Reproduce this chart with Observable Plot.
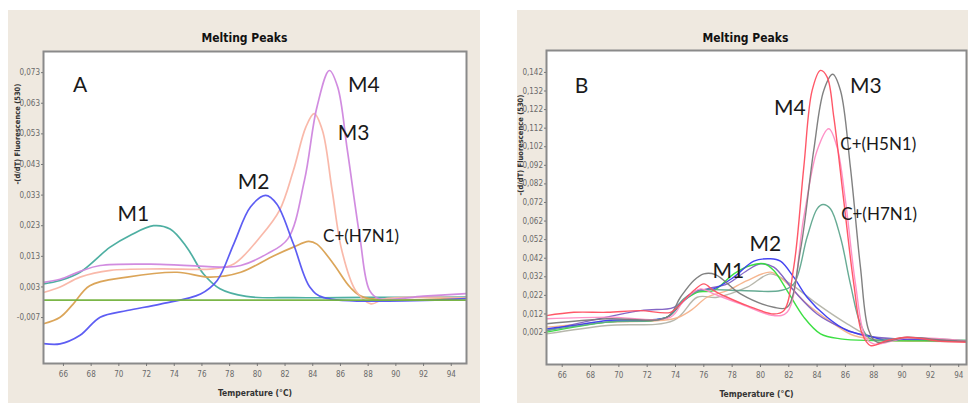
<!DOCTYPE html>
<html><head><meta charset="utf-8">
<script src="https://cdn.jsdelivr.net/npm/d3@7"></script>
<script src="https://cdn.jsdelivr.net/npm/@observablehq/plot@0.6"></script>
<style>
html,body{margin:0;padding:0;background:#fff;width:968px;height:403px;overflow:hidden;}
.panel{position:absolute;top:10px;background:#efe9e0;overflow:hidden;}
#pa{left:8px;width:472px;height:393px;}
#pb{left:517px;width:451px;height:393px;}
svg{display:block;}
</style></head><body>
<div id="pa" class="panel"></div><div id="pb" class="panel"></div>
<script>
// ---------- shared text ----------
const chartTitle = "Melting Peaks";
const xTitle = "Temperature (°C)";
const yTitle = "-(d/dT) Fluorescence (530)";
const xTicks = [66, 68, 70, 72, 74, 76, 78, 80, 82, 84, 86, 88, 90, 92, 94];

// ---------- Panel A ----------
const yTicksA = [-0.007, 0.003, 0.013, 0.023, 0.033, 0.043, 0.053, 0.063, 0.073];

const aM1T = [64.56, 65.76, 67.2, 69.37, 70.8, 72.5, 73.7, 74.9, 76.1, 77.3, 79.2, 82.6, 88, 95.1];
const aM1V = [0.0040, 0.0051, 0.0078, 0.0160, 0.0198, 0.0230, 0.0219, 0.0160, 0.0073, 0.0024, -0.0001, -0.0005, -0.0004, -0.0003];

const aM4T = [64.56, 65.76, 67.2, 68.65, 73, 77.8, 78.8, 80.7, 82.2, 83.4, 84.3, 85.2, 85.8, 86.5, 87.4, 88.1, 88.8, 92, 95.1];
const aM4V = [0.0045, 0.0055, 0.0081, 0.0100, 0.0104, 0.0095, 0.0100, 0.0138, 0.0187, 0.0378, 0.0617, 0.0737, 0.0683, 0.0476, 0.0193, 0.0019, -0.0009, 0.0000, 0.0008];

const aM3T = [64.56, 65.76, 67.2, 69.4, 73, 76.8, 78.3, 80.2, 81.6, 82.6, 83.5, 84.1, 84.7, 85.4, 86.1, 87.1, 88.2, 89.2, 95.1];
const aM3V = [0.0012, 0.0030, 0.0062, 0.0084, 0.0089, 0.0089, 0.0105, 0.0193, 0.0280, 0.0410, 0.0552, 0.0596, 0.0541, 0.0345, 0.0149, 0.0018, -0.0025, -0.0009, -0.0006];

const aH7T = [64.56, 65.76, 66.7, 67.9, 70.6, 74.2, 76.6, 78.8, 81.2, 82.6, 83.7, 84.3, 85.5, 86.7, 87.7, 95.1];
const aH7V = [-0.0090, -0.0069, -0.0026, 0.0034, 0.0062, 0.0078, 0.0062, 0.0078, 0.0132, 0.0160, 0.0179, 0.0170, 0.0105, 0.0029, -0.0004, -0.0005];

const aM2T = [64.56, 65.76, 67.2, 68.65, 70.6, 73, 75.9, 77.1, 78.3, 79.5, 80.6, 81.4, 82.6, 83.8, 84.8, 95.1];
const aM2V = [-0.0155, -0.0156, -0.0128, -0.0069, -0.0047, -0.0026, 0.0007, 0.0051, 0.0171, 0.0291, 0.0329, 0.0301, 0.0171, 0.0029, -0.0005, -0.0008];

const aNegT = [64.56, 95.1];
const aNegV = [-0.0013, -0.0013];

const bigLabelsA = ["A", "M4", "M3", "M2", "M1"];
const bigLabelsAT = [67.2, 87.68, 86.94, 79.72, 71.05];
const bigLabelsAV = [0.0688, 0.0689, 0.0532, 0.0371, 0.0267];
const smallLabelsA = ["C+(H7N1)"];
const smallLabelsAT = [87.49];
const smallLabelsAV = [0.0194];

// ---------- Panel B ----------
const yTicksB = [0.002, 0.012, 0.022, 0.032, 0.042, 0.052, 0.062, 0.072, 0.082, 0.092, 0.102, 0.112, 0.122, 0.132, 0.142];

const bLgT = [64.89, 69.18, 73.88, 75.53, 76.94, 79.06, 80.71, 82.12, 84.0, 86.12, 88.0, 94.68];
const bLgV = [0.0013, 0.0058, 0.0085, 0.0210, 0.0210, 0.0264, 0.0336, 0.0282, 0.0174, 0.0067, -0.0005, -0.0027];

const bPeT = [64.89, 69.18, 73.88, 75.06, 76.23, 77.65, 79.06, 80.71, 81.65, 83.29, 85.18, 86.59, 88.94, 94.68];
const bPeV = [0.0049, 0.0076, 0.0094, 0.0138, 0.0210, 0.0246, 0.0300, 0.0345, 0.0300, 0.0174, 0.0067, 0.0004, -0.0023, -0.0023];

const bPuT = [64.89, 71.53, 73.88, 75.06, 76.23, 77.65, 79.06, 80.0, 80.94, 82.35, 84.0, 85.65, 87.29, 94.68];
const bPuV = [0.0031, 0.0138, 0.0156, 0.0228, 0.0255, 0.0282, 0.0354, 0.0390, 0.0372, 0.0246, 0.0120, 0.0049, 0.0004, -0.0027];

const bGrT = [64.89, 69.18, 73.41, 74.59, 75.53, 76.7, 78.12, 79.29, 80.24, 80.94, 81.88, 83.06, 84.24, 85.65, 88.0, 94.68];
const bGrV = [0.0022, 0.0076, 0.0103, 0.0192, 0.0237, 0.0246, 0.0336, 0.0381, 0.0390, 0.0354, 0.0246, 0.0103, 0.0013, -0.0014, -0.0023, -0.0023];

const bBlT = [64.89, 66.82, 69.18, 73.41, 74.35, 75.53, 76.7, 78.12, 79.53, 80.71, 81.41, 82.35, 83.29, 84.71, 86.12, 87.53, 88.94, 90.35, 94.68];
const bBlV = [0.0040, 0.0058, 0.0085, 0.0103, 0.0174, 0.0246, 0.0255, 0.0318, 0.0404, 0.0417, 0.0404, 0.0318, 0.0210, 0.0102, 0.0031, 0.0004, -0.0023, -0.0014, -0.0027];

const bH7T = [64.89, 69.18, 73.41, 74.59, 75.76, 78.59, 81.41, 82.35, 83.29, 84.0, 84.42, 84.94, 85.65, 86.35, 87.06, 87.77, 90.35, 94.68];
const bH7V = [0.0031, 0.0076, 0.0103, 0.0201, 0.0246, 0.0246, 0.0246, 0.0282, 0.0533, 0.0686, 0.0709, 0.0686, 0.0533, 0.0282, 0.0067, -0.0014, -0.0009, -0.0023];

const bH5T = [64.89, 69.18, 73.65, 74.59, 75.76, 76.7, 78.59, 80.94, 81.88, 83.06, 84.0, 84.82, 85.41, 86.0, 86.71, 87.41, 88.0, 90.35, 94.68];
const bH5V = [0.0094, 0.0103, 0.0103, 0.0192, 0.0255, 0.0228, 0.0174, 0.0111, 0.0129, 0.0641, 0.1000, 0.1117, 0.1018, 0.0731, 0.0282, -0.0005, -0.0041, -0.0009, -0.0027];

const bM3T = [64.89, 69.18, 73.41, 74.35, 75.29, 76.0, 76.82, 78.59, 80.94, 81.88, 82.82, 83.76, 84.47, 85.1, 85.65, 86.35, 87.06, 87.65, 88.24, 90.35, 92.7, 94.68];
const bM3V = [0.0067, 0.0094, 0.0103, 0.0210, 0.0300, 0.0336, 0.0332, 0.0228, 0.0156, 0.0156, 0.0462, 0.1000, 0.1323, 0.1410, 0.1323, 0.0910, 0.0372, 0.0031, -0.0032, -0.0005, -0.0020, -0.0027];

const bM4T = [64.89, 66.82, 69.18, 71.53, 73.65, 74.35, 75.29, 76.0, 76.7, 77.65, 79.06, 80.94, 81.65, 82.35, 83.06, 83.65, 84.24, 84.71, 85.18, 85.88, 86.59, 87.18, 87.77, 88.94, 90.35, 92.7, 94.68];
const bM4V = [0.0111, 0.0129, 0.0129, 0.0138, 0.0129, 0.0174, 0.0246, 0.0282, 0.0246, 0.0210, 0.0165, 0.0120, 0.0138, 0.0372, 0.0910, 0.1323, 0.1431, 0.1395, 0.1179, 0.0731, 0.0282, 0.0013, -0.0050, -0.0023, -0.0005, -0.0027, -0.0032];

const bigLabelsB = ["B", "M3", "M4", "M2", "M1"];
const bigLabelsBT = [67.36, 87.44, 82.08, 80.35, 77.74];
const bigLabelsBV = [0.1345, 0.1345, 0.1229, 0.0494, 0.0348];
const smallLabelsB = ["C+(H5N1)", "C+(H7N1)"];
const smallLabelsBT = [88.32, 88.38];
const smallLabelsBV = [0.1030, 0.0655];

// ---------- helpers ----------
const rows = (t, v) => t.map((d, i) => ({t: d, v: v[i]}));
const fmt = d => (d < 0 ? "-" : "") + Math.abs(d).toFixed(3).replace(".", ",");
const narrow = "'Liberation Sans Narrow', 'DejaVu Sans Condensed', 'Arial Narrow', sans-serif";
const calib = "Lato, 'Open Sans', sans-serif";

function build(cfg) {
  const lines = cfg.series.map(([t, v, color]) =>
    Plot.line(rows(t, v), {x: "t", y: "v", stroke: color, strokeWidth: cfg.lw, curve: "catmull-rom", clip: true, strokeOpacity: 0.95}));
  const big = cfg.big.map((d, i) => ({text: d, t: cfg.bigT[i], v: cfg.bigV[i]}));
  const small = cfg.small.map((d, i) => ({text: d, t: cfg.smallT[i], v: cfg.smallV[i]}));
  return Plot.plot({
    width: cfg.width, height: 393,
    marginTop: cfg.mt, marginBottom: cfg.mb, marginLeft: cfg.ml, marginRight: cfg.mr,
    style: {background: "transparent", fontFamily: narrow, fontSize: "8px", color: "#666", overflow: "visible"},
    x: {domain: cfg.xDomain},
    y: {domain: cfg.yDomain},
    marks: [
      Plot.frame({fill: "white", stroke: "none"}),
      ...lines,
      Plot.frame({stroke: "#8a8a8a", strokeWidth: 2}),
      Plot.axisX({ticks: xTicks, tickFormat: d => String(d), tickSize: 3, tickPadding: 5, label: null, stroke: "#777", fill: "#6a6a6a"}),
      Plot.axisY({ticks: cfg.yTicks, tickFormat: fmt, tickSize: 2, tickPadding: 1.5, label: null, stroke: "#777", fill: "#6a6a6a"}),
      Plot.text([chartTitle], {text: d => d, frameAnchor: "top", dy: cfg.titleDy, dx: cfg.titleDx, fontWeight: "bold", fontSize: 12, fill: "#111", fontFamily: narrow}),
      Plot.text([xTitle], {text: d => d, frameAnchor: "bottom", dy: 32, fontWeight: "bold", fontSize: 8.5, fill: "#333", fontFamily: narrow}),
      Plot.text([yTitle], {text: d => d, frameAnchor: "left", dx: cfg.yTitleDx, dy: cfg.yTitleDy, rotate: -90, fontWeight: "bold", fontSize: 7.5, fill: "#333", fontFamily: narrow}),
      Plot.text(big, {x: "t", y: "v", text: "text", fontSize: 21, fill: "#1a1a1a", fontFamily: calib}),
      Plot.text(small, {x: "t", y: "v", text: "text", fontSize: 17, fill: "#1a1a1a", fontFamily: calib})
    ]
  });
}

document.getElementById("pa").append(build({
  width: 472, mt: 41, mb: 40, ml: 35, mr: 14, lw: 1.7,
  xDomain: [64.56, 95.1], yDomain: [-0.022, 0.0799], yTicks: yTicksA,
  titleDx: -10.5, titleDy: -18.5, yTitleDx: -26, yTitleDy: -23,
  series: [
    [aM1T, aM1V, "#45ab9d"],
    [aH7T, aH7V, "#d9a050"],
    [aM3T, aM3V, "#f9b5a5"],
    [aM4T, aM4V, "#cf86de"],
    [aM2T, aM2V, "#5454f2"],
    [aNegT, aNegV, "#74b23e"]
  ],
  big: bigLabelsA, bigT: bigLabelsAT, bigV: bigLabelsAV,
  small: smallLabelsA, smallT: smallLabelsAT, smallV: smallLabelsAV
}));

document.getElementById("pb").append(build({
  width: 451, mt: 40, mb: 39, ml: 29, mr: 2, lw: 1.4,
  xDomain: [64.89, 94.55], yDomain: [-0.0152, 0.1538], yTicks: yTicksB,
  titleDx: -11, titleDy: -17.5, yTitleDx: -26, yTitleDy: -12,
  series: [
    [bLgT, bLgV, "#b3b3a8"],
    [bPeT, bPeV, "#f5b28a"],
    [bPuT, bPuV, "#7d5ec2"],
    [bGrT, bGrV, "#33dd3a"],
    [bBlT, bBlV, "#3a3af0"],
    [bH7T, bH7V, "#5fa68e"],
    [bH5T, bH5V, "#ff8cc4"],
    [bM3T, bM3V, "#7a7a7a"],
    [bM4T, bM4V, "#ff4f60"]
  ],
  big: bigLabelsB, bigT: bigLabelsBT, bigV: bigLabelsBV,
  small: smallLabelsB, smallT: smallLabelsBT, smallV: smallLabelsBV
}));
</script>
</body></html>
